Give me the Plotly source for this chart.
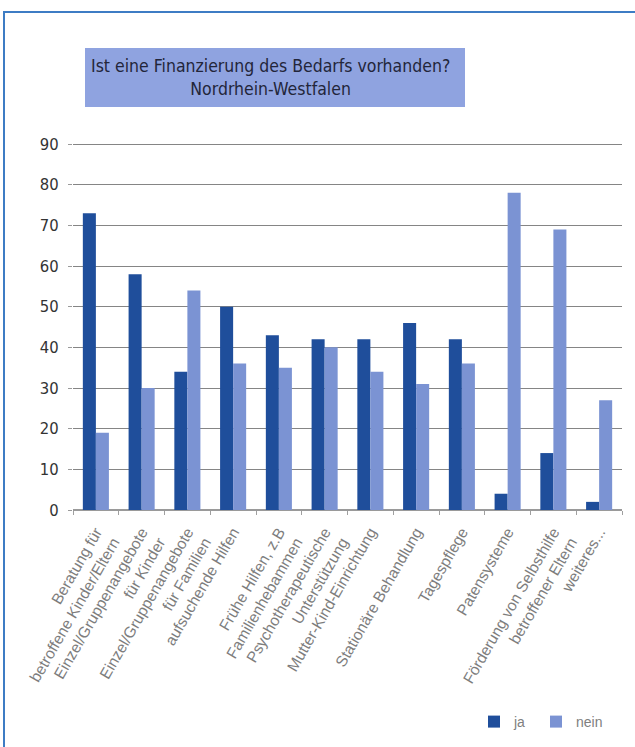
import plotly.graph_objects as go

categories = [
    "Beratung für<br>betroffene Kinder/Eltern",
    "Einzel/Gruppenangebote<br>für Kinder",
    "Einzel/Gruppenangebote<br>für Familien",
    "aufsuchende Hilfen",
    "Frühe Hilfen, z.B<br>Familienhebammen",
    "Psychotherapeutische<br>Unterstützung",
    "Mutter-Kind-Einrichtung",
    "Stationäre Behandlung",
    "Tagespflege",
    "Patensysteme",
    "Förderung von Selbsthilfe<br>betroffener Eltern",
    "weiteres...",
]
ja = [73, 58, 34, 50, 43, 42, 42, 46, 42, 4, 14, 2]
nein = [19, 30, 54, 36, 35, 40, 34, 31, 36, 78, 69, 27]
y_ticks = [0, 10, 20, 30, 40, 50, 60, 70, 80, 90]

W, H = 635, 747
L, R, T, B = 73, 13, 143, 237
pw, ph = W - L - R, H - T - B

def px(x):
    return (x - L) / pw

def py(y):
    return (H - B - y) / ph

cond = "DejaVu Sans Condensed, Liberation Sans Narrow, sans-serif"
legfont = dict(family="Liberation Sans, Arial, sans-serif", size=14, color="#808080")

fig = go.Figure()
fig.add_trace(go.Bar(name="ja", x=categories, y=ja, legend="legend",
                     marker=dict(color="#1f4e9b", line=dict(width=0))))
fig.add_trace(go.Bar(name="nein", x=categories, y=nein, legend="legend2",
                     marker=dict(color="#7b93d3", line=dict(width=0))))

fig.update_layout(
    width=W, height=H,
    margin=dict(l=L, r=R, t=T, b=B, autoexpand=False),
    paper_bgcolor="white", plot_bgcolor="white",
    barmode="group", bargap=0.43, bargroupgap=0,
    showlegend=True,
    legend=dict(orientation="h", x=px(474), y=py(722), xanchor="left", yanchor="middle",
                font=legfont, itemwidth=30, bgcolor="rgba(0,0,0,0)"),
    legend2=dict(orientation="h", x=px(536), y=py(722), xanchor="left", yanchor="middle",
                 font=legfont, itemwidth=30, bgcolor="rgba(0,0,0,0)"),
    xaxis=dict(tickangle=-60, tickson="boundaries", ticks="outside", ticklen=4, tickcolor="#a0a0a0",
               showline=True, linecolor="#9a9a9a", linewidth=1, ticklabelstandoff=6,
               tickfont=dict(family="Liberation Sans, Arial, sans-serif", size=15.5, color="#7d7d7d")),
    yaxis=dict(range=[0, 90.25], tickvals=y_ticks, showgrid=True, gridcolor="#858585", gridwidth=1,
               zeroline=True, zerolinecolor="#9a9a9a", ticks="outside", ticklen=4, tickcolor="#9a9a9a",
               tickfont=dict(family=cond, size=16.5, color="#333333"), ticklabelstandoff=6),
    shapes=[
        dict(type="rect", xref="paper", yref="paper", x0=px(4), x1=px(640), y0=py(752), y1=py(12),
             line=dict(color="#3d7cc4", width=2), fillcolor="rgba(0,0,0,0)", layer="below"),
        dict(type="rect", xref="paper", yref="paper", x0=px(85), x1=px(465), y0=py(107), y1=py(48),
             line=dict(width=0), fillcolor="#8fa3e0", layer="below"),
    ],
    annotations=[
        dict(xref="paper", yref="paper", x=px(270), y=py(77), xanchor="center", yanchor="middle",
             text="Ist eine Finanzierung des Bedarfs vorhanden?<br>Nordrhein-Westfalen",
             showarrow=False, align="center",
             font=dict(family=cond, size=17.5, color="#23263a")),
    ],
)

fig.write_html("out.html")
